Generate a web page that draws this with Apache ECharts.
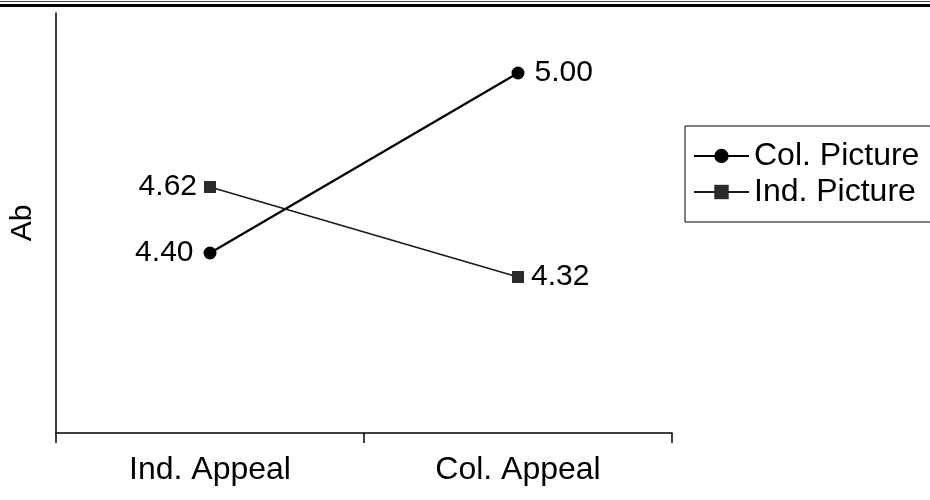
<!DOCTYPE html>
<html>
<head>
<meta charset="utf-8">
<script src="https://cdn.jsdelivr.net/npm/echarts@6/dist/echarts.min.js"></script>
<style>
  html, body { margin: 0; padding: 0; background: #fff; }
  #chart { width: 930px; height: 500px; }
</style>
</head>
<body>
<div id="chart"></div>
<script>
// Appeal conditions on the x axis
const categories = ['Ind. Appeal', 'Col. Appeal'];
// Mean attitude (Ab) for each picture condition
const colPicture = [4.40, 5.00];
const indPicture = [4.62, 4.32];
// Label side for each point
const colLabelPos = ['left', 'right'];
const indLabelPos = ['left', 'right'];

const FONT = '"Liberation Sans", Arial, sans-serif';
const FS_AXIS = 32;
const FS_LABEL = 30;

function makeData(values, positions) {
  return values.map((v, i) => ({
    value: v,
    label: { position: positions[i] }
  }));
}

const chart = echarts.init(document.getElementById('chart'), null, { renderer: 'canvas' });
chart.setOption({
  animation: false,
  backgroundColor: '#fff',
  grid: { left: 51, right: 258, top: 13, bottom: 67, containLabel: false },
  xAxis: {
    type: 'category',
    data: categories,
    boundaryGap: true,
    axisLine: { lineStyle: { color: '#000', width: 1.5 } },
    axisTick: { show: true, length: 10, lineStyle: { color: '#000', width: 1.5 } },
    axisLabel: { color: '#000', fontFamily: FONT, fontSize: FS_AXIS, margin: 21 },
    splitLine: { show: false }
  },
  yAxis: {
    type: 'value',
    min: 3.8,
    max: 5.2,
    name: 'Ab',
    nameLocation: 'middle',
    nameGap: 18,
    nameRotate: 90,
    nameTextStyle: { color: '#000', fontFamily: FONT, fontSize: FS_LABEL },
    axisLine: { show: true, lineStyle: { color: '#000', width: 1.5 } },
    axisTick: { show: false },
    axisLabel: { show: false },
    splitLine: { show: false }
  },
  legend: {
    orient: 'vertical',
    left: 685,
    top: 126,
    padding: [14, 12, 14, 8],
    itemGap: 4,
    itemWidth: 55,
    itemHeight: 18,
    borderColor: '#000',
    borderWidth: 1,
    borderRadius: 0,
    textStyle: { color: '#000', fontFamily: FONT, fontSize: FS_AXIS, lineHeight: 32 },
    data: ['Col. Picture', 'Ind. Picture']
  },
  series: [
    {
      name: 'Col. Picture',
      type: 'line',
      data: makeData(colPicture, colLabelPos),
      symbol: 'circle',
      symbolSize: 13,
      itemStyle: { color: '#000' },
      lineStyle: { color: '#000', width: 2.2 },
      label: {
        show: true,
        distance: 10,
        color: '#000',
        fontFamily: FONT,
        fontSize: FS_LABEL,
        formatter: p => p.value.toFixed(2)
      }
    },
    {
      name: 'Ind. Picture',
      type: 'line',
      data: makeData(indPicture, indLabelPos),
      symbol: 'rect',
      symbolSize: 12,
      itemStyle: { color: '#2a2a2a' },
      lineStyle: { color: '#1a1a1a', width: 1.6 },
      label: {
        show: true,
        distance: 7,
        color: '#000',
        fontFamily: FONT,
        fontSize: FS_LABEL,
        formatter: p => p.value.toFixed(2)
      }
    }
  ],
  graphic: [
    { type: 'line', shape: { x1: 0, y1: 1.5, x2: 930, y2: 1.5 }, style: { stroke: '#444', lineWidth: 1 } },
    { type: 'line', shape: { x1: 0, y1: 5.5, x2: 930, y2: 5.5 }, style: { stroke: '#000', lineWidth: 3 } }
  ]
});
</script>
</body>
</html>
